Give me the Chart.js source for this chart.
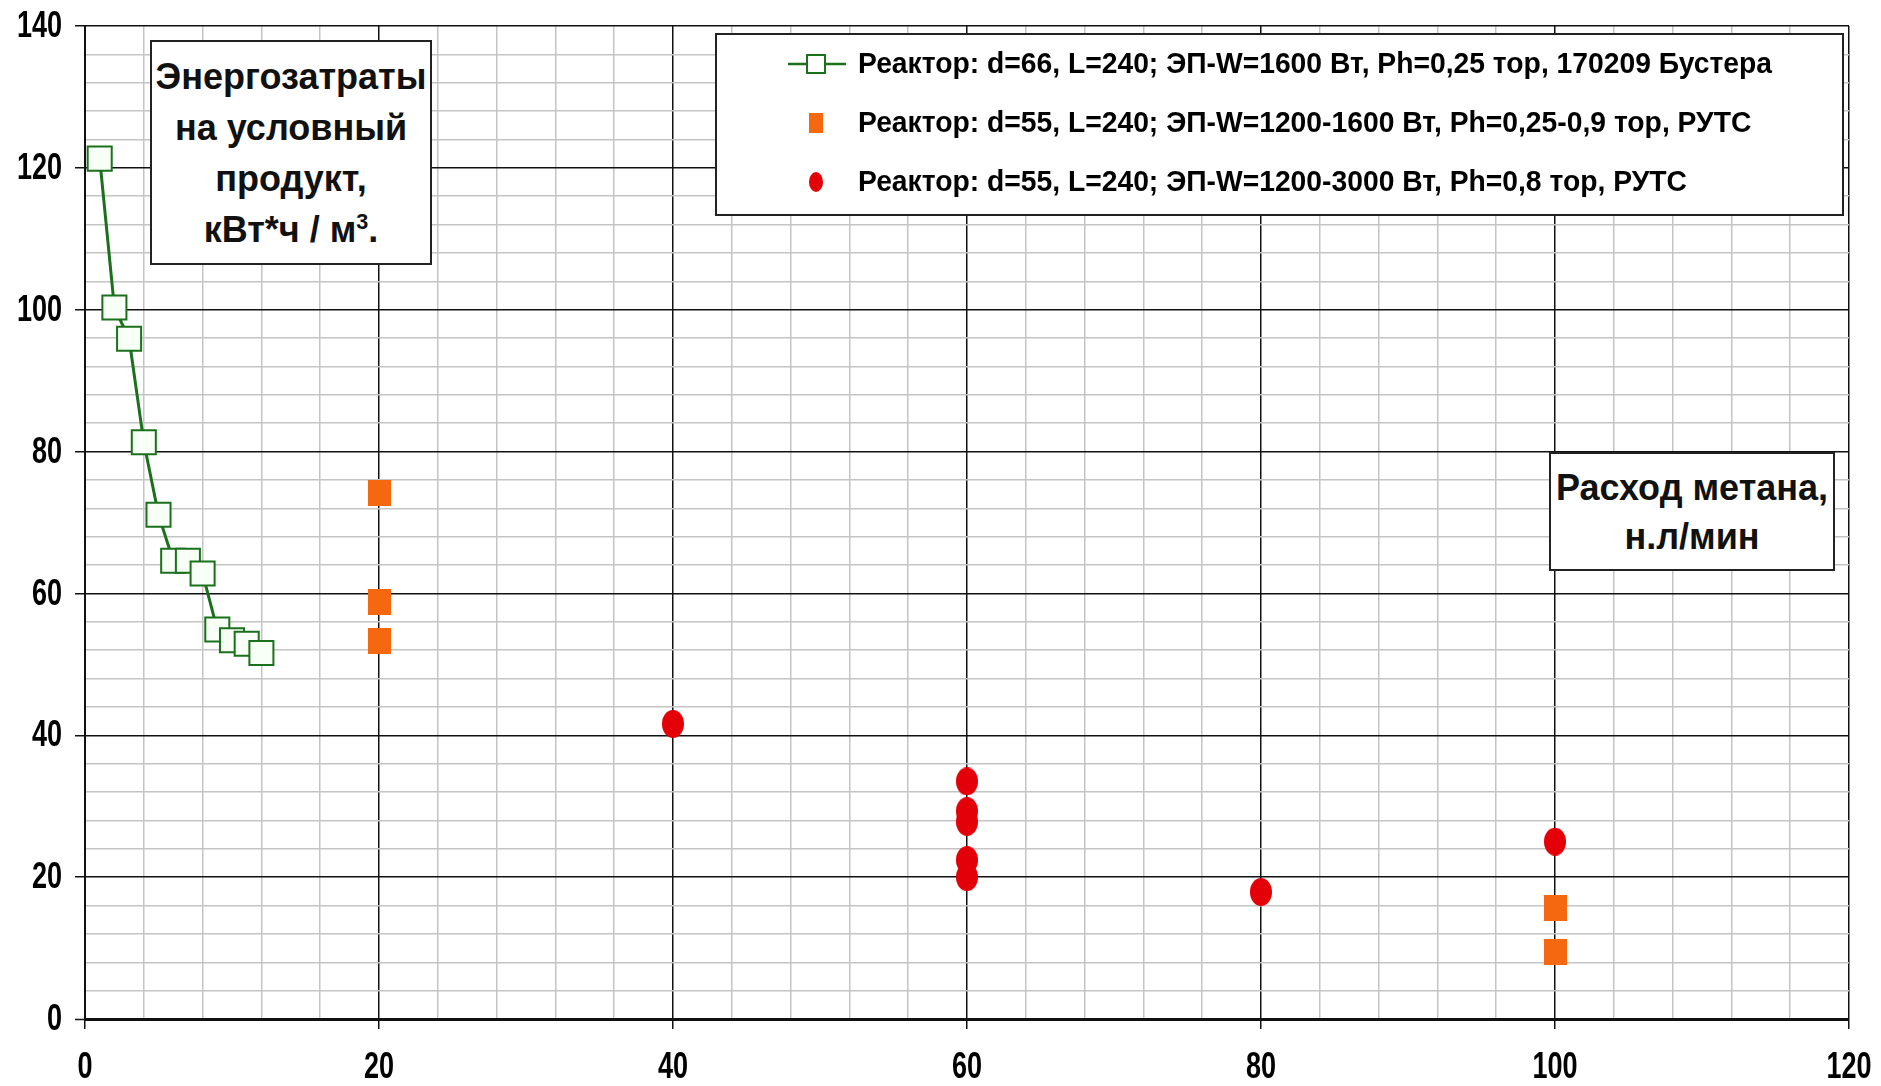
<!DOCTYPE html>
<html lang="ru">
<head>
<meta charset="utf-8">
<script src="https://cdn.jsdelivr.net/npm/chart.js@4.4.1/dist/chart.umd.min.js"></script>
<style>
  html, body { margin: 0; padding: 0; background: #fff; }
  #wrap { position: relative; width: 1881px; height: 1086px; }
  .note {
    position: absolute; background: #fff; border: 2px solid #222; box-sizing: border-box;
    display: flex; flex-direction: column; justify-content: center; align-items: center;
    font-family: 'Liberation Sans', Arial, sans-serif; font-weight: bold; color: #111; text-align: center;
  }
  .note div { white-space: nowrap; }
  .note sup { font-size: 60%; line-height: 0; }
</style>
</head>
<body>
<div id="wrap">
  <canvas id="chart"></canvas>
  <div class="note" style="left:150px;top:40px;width:282px;height:225px;font-size:36px;line-height:51px">
    <div>Энергозатраты</div><div>на условный</div><div>продукт,</div><div>кВт*ч / м<sup>3</sup>.</div>
  </div>
  <div class="note" style="left:1549px;top:452px;width:286px;height:119px;font-size:36px;line-height:49px">
    <div>Расход метана,</div><div>н.л/мин</div>
  </div>
</div>
<script>
// Энергозатраты vs расход метана
const xTicks = [0, 20, 40, 60, 80, 100, 120];
const yTicks = [0, 20, 40, 60, 80, 100, 120, 140];

const seriesLabels = [
  'Реактор: d=66, L=240; ЭП-W=1600 Вт, Ph=0,25 тор, 170209 Бустера',
  'Реактор: d=55, L=240; ЭП-W=1200-1600 Вт, Ph=0,25-0,9 тор, РУТС',
  'Реактор: d=55, L=240; ЭП-W=1200-3000 Вт, Ph=0,8 тор, РУТС'
];

const boosterX = [1, 2, 3, 4, 5, 6, 7, 8, 9, 10, 11, 12];
const boosterY = [121.3, 100.3, 95.9, 81.3, 71.1, 64.6, 64.6, 62.8, 54.9, 53.4, 52.9, 51.6];

const squareX = [20, 20, 20, 100, 100];
const squareY = [74.1, 58.8, 53.3, 15.6, 9.4];

const circleX = [40, 60, 60, 60, 60, 60, 80, 100];
const circleY = [41.6, 33.5, 29.3, 27.8, 22.4, 20.0, 17.9, 25.0];

const GREEN = '#1b701b';
const ORANGE = '#f5680f';
const RED = '#e40008';
const FONT = "'Liberation Sans', Arial, sans-serif";

function toPoints(xs, ys) {
  return xs.map((x, i) => ({ x: x, y: ys[i] }));
}

// marker images (the original markers are stretched vertically)
function markerImg(w, h, color, shape) {
  const c = document.createElement('canvas');
  c.width = w; c.height = h;
  const g = c.getContext('2d');
  g.fillStyle = color;
  if (shape === 'ellipse') {
    g.beginPath();
    g.ellipse(w / 2, h / 2, w / 2, h / 2, 0, 0, Math.PI * 2);
    g.fill();
  } else {
    g.fillRect(0, 0, w, h);
  }
  return c;
}

const orangeMark = markerImg(23, 26, ORANGE, 'rect');
const redMark = markerImg(22, 28, RED, 'ellipse');

const isMajor = v => Math.abs(v % 20) < 1e-6;

// squeezed text, like the condensed labels of the source picture
function narrowText(ctx, text, x, y, sx, align) {
  ctx.save();
  ctx.translate(x, y);
  ctx.scale(sx, 1);
  ctx.textAlign = align;
  ctx.textBaseline = 'middle';
  ctx.fillText(text, 0, 0);
  ctx.restore();
}

// tick labels: positions come from the chart's own scales
const squeezedTicks = {
  id: 'squeezedTicks',
  afterDraw(chart) {
    const ctx = chart.ctx;
    const xs = chart.scales.x, ys = chart.scales.y;
    ctx.save();
    ctx.fillStyle = '#000';
    ctx.font = 'bold 37px ' + FONT;
    xs.ticks.forEach(t => {
      if (!xTicks.includes(t.value)) return;
      narrowText(ctx, String(t.value), xs.getPixelForValue(t.value), 1068, 0.73, 'center');
    });
    ys.ticks.forEach(t => {
      if (!yTicks.includes(t.value)) return;
      narrowText(ctx, String(t.value), 62, ys.getPixelForValue(t.value) + 1, 0.73, 'right');
    });
    ctx.restore();
  }
};

// legend drawn as framed box like the original
const legendBox = {
  id: 'legendBox',
  afterDraw(chart) {
    const ctx = chart.ctx;
    const bx = 716, by = 34, bw = 1127, bh = 181;
    const rows = [64, 123, 182];
    ctx.save();
    ctx.fillStyle = '#fff';
    ctx.fillRect(bx, by, bw, bh);
    ctx.strokeStyle = '#222';
    ctx.lineWidth = 2;
    ctx.strokeRect(bx, by, bw, bh);

    ctx.font = 'bold 29px ' + FONT;
    const sx = 914 / ctx.measureText(chart.data.datasets[0].label).width;

    chart.data.datasets.forEach((ds, i) => {
      const y = rows[i];
      const mx = 816;
      if (i === 0) {
        ctx.strokeStyle = GREEN;
        ctx.lineWidth = 2.5;
        ctx.beginPath(); ctx.moveTo(788, y); ctx.lineTo(846, y); ctx.stroke();
        ctx.lineWidth = 2;
        ctx.fillStyle = '#fff';
        ctx.fillRect(mx - 9, y - 9, 18, 18);
        ctx.strokeRect(mx - 9, y - 9, 18, 18);
      } else if (i === 1) {
        ctx.fillStyle = ORANGE;
        ctx.fillRect(mx - 7, y - 10, 14, 20);
      } else {
        ctx.fillStyle = RED;
        ctx.beginPath();
        ctx.ellipse(mx, y, 7, 10, 0, 0, Math.PI * 2);
        ctx.fill();
      }
      ctx.fillStyle = '#000';
      narrowText(ctx, ds.label, 858, y + 1, sx, 'left');
    });
    ctx.restore();
  }
};

new Chart(document.getElementById('chart'), {
  type: 'scatter',
  data: {
    datasets: [
      {
        label: seriesLabels[0],
        data: toPoints(boosterX, boosterY),
        showLine: true,
        borderColor: GREEN,
        borderWidth: 3,
        pointStyle: 'rect',
        pointRadius: 17,
        pointBorderWidth: 2,
        pointBorderColor: GREEN,
        pointBackgroundColor: '#f7fff7',
        order: 3
      },
      {
        label: seriesLabels[1],
        data: toPoints(squareX, squareY),
        pointStyle: orangeMark,
        backgroundColor: ORANGE,
        borderColor: ORANGE,
        order: 2
      },
      {
        label: seriesLabels[2],
        data: toPoints(circleX, circleY),
        pointStyle: redMark,
        backgroundColor: RED,
        borderColor: RED,
        order: 1
      }
    ]
  },
  options: {
    responsive: true,
    maintainAspectRatio: false,
    animation: false,
    layout: { padding: { left: 0, top: 26, right: 32, bottom: 0 } },
    plugins: {
      legend: { display: false },
      tooltip: { enabled: false }
    },
    scales: {
      x: {
        type: 'linear',
        min: xTicks[0],
        max: xTicks[xTicks.length - 1],
        afterFit: s => { s.height = 67; },
        ticks: { stepSize: 4, autoSkip: false, display: false },
        grid: {
          color: c => (isMajor(c.tick.value) ? '#111' : '#c4c4c4'),
          lineWidth: 1.5,
          tickColor: c => (isMajor(c.tick.value) ? '#111' : 'rgba(0,0,0,0)'),
          tickLength: 10,
          tickWidth: 1.5
        },
        border: { display: true, color: '#111', width: 2 }
      },
      y: {
        type: 'linear',
        min: yTicks[0],
        max: yTicks[yTicks.length - 1],
        afterFit: s => { s.width = 85; },
        ticks: { stepSize: 4, autoSkip: false, display: false },
        grid: {
          color: c => (isMajor(c.tick.value) ? '#111' : '#c4c4c4'),
          lineWidth: c => (c.tick.value === 0 ? 3 : 1.5),
          tickColor: c => (isMajor(c.tick.value) ? '#111' : 'rgba(0,0,0,0)'),
          tickLength: 10,
          tickWidth: 1.5
        },
        border: { display: true, color: '#111', width: 2 }
      }
    }
  },
  plugins: [squeezedTicks, legendBox]
});
</script>
</body>
</html>
